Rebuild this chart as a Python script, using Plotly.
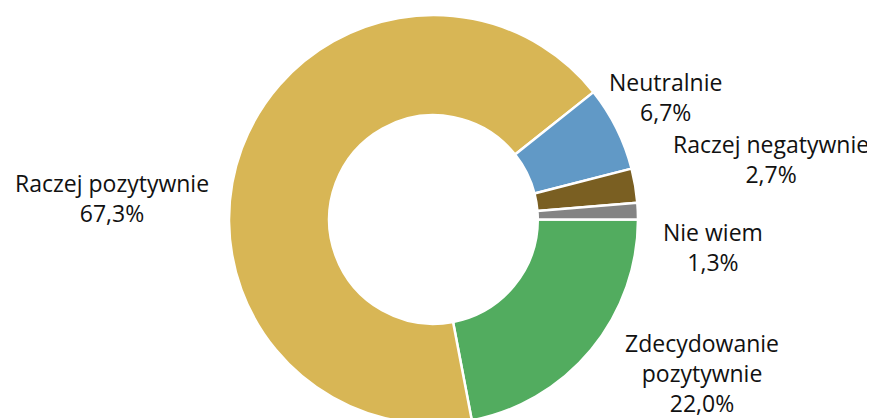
import plotly.graph_objects as go

# survey answers, clockwise from 3 o'clock
labels = ["Zdecydowanie pozytywnie", "Raczej pozytywnie", "Neutralnie",
          "Raczej negatywnie", "Nie wiem"]
values = [22.0, 67.3, 6.7, 2.7, 1.3]
colors = ["#52AC5F", "#D8B655", "#6199C6", "#7A5F22", "#848484"]

W, H = 875, 430
OFF = 8  # the page body adds an 8px margin, so shift everything up/left
# label centres in window pixels (from top-left), same order as labels
label_pos = [(702, 373), (112, 198), (665, 97), (771, 159), (713, 247)]

cx, cy, r = 433.5 - OFF, 219.5 - OFF, 204.5

fig = go.Figure(go.Pie(
    labels=labels,
    values=values,
    hole=0.51,
    sort=False,
    direction="clockwise",
    rotation=90,
    marker=dict(colors=colors, line=dict(color="white", width=2.5)),
    textinfo="none",
    hoverinfo="label+percent",
    domain=dict(x=[(cx - r) / W, (cx + r) / W],
                y=[1 - (cy + r) / H, 1 - (cy - r) / H]),
    showlegend=False,
))

for lab, val, (px, py) in zip(labels, values, label_pos):
    name = lab.replace(" ", "<br>") if len(lab) > 18 else lab
    txt = name + "<br>" + f"{val:.1f}".replace(".", ",") + "%"
    fig.add_annotation(x=(px - OFF) / W, y=1 - (py - OFF) / H,
                       xref="paper", yref="paper",
                       text=txt, showarrow=False, xanchor="center", yanchor="middle",
                       font=dict(size=23, color="#111111", family="Open Sans"))

fig.update_layout(
    width=W, height=H,
    margin=dict(l=0, r=0, t=0, b=0),
    paper_bgcolor="white",
    plot_bgcolor="white",
)

fig.write_html("out.html")
